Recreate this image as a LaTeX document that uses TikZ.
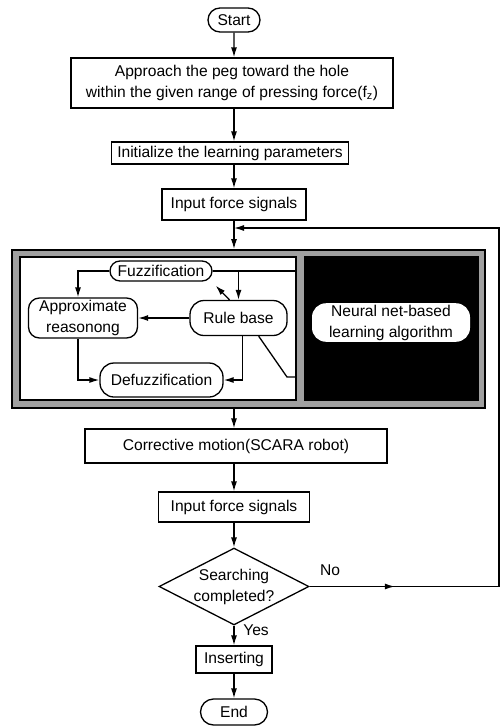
\documentclass[tikz,border=0pt]{standalone}
\usepackage{fontspec}
\setmainfont{Liberation Sans}
\usetikzlibrary{shapes.geometric, shapes.misc, arrows.meta, decorations.markings, positioning, calc}
\definecolor{bandgray}{RGB}{160,160,160}
\newcommand{\flowfont}{\fontsize{15.6}{21}\selectfont}
\tikzset{
  flowterm/.style={draw, line width=1.3pt, rounded rectangle, minimum height=24pt,
    inner sep=2pt, font=\flowfont},
  flowbox/.style={draw, line width=1.3pt, rectangle, inner sep=1.5pt, font=\flowfont, align=center},
  flowdec/.style={draw, line width=1.3pt, diamond, aspect=1.95, inner sep=0pt,
    font=\flowfont, align=center},
  fuzzbox/.style={draw, line width=1.3pt, rectangle, rounded corners=11pt, inner sep=1.5pt,
    font=\flowfont, align=center, fill=white},
  flowline/.style={line width=1.3pt},
  flowarrow/.style={line width=1.3pt, -{Latex[length=10pt,width=6pt]}},
  flowlabel/.style={font=\flowfont}
}
\begin{document}
\begin{tikzpicture}[x=1pt, y=-1pt]
  \useasboundingbox (0,0) rectangle (500,726);
  % main column
  \node[flowterm, minimum width=56pt] (start) at (234,20) {Start};
  \node[flowbox, minimum width=322pt, minimum height=50pt] (approach) at (232,83)
    {Approach the peg toward the hole\\within the given range of pressing force(f\textsubscript{z})};
  \node[flowbox, minimum width=237pt, minimum height=22pt] (init) at (230,153) {Initialize the learning parameters};
  \node[flowbox, minimum width=144pt, minimum height=31pt] (input1) at (234,204.5) {Input force signals};
  % fuzzy / neural panel
  \node[draw, line width=1.8pt, fill=bandgray, minimum width=473pt, minimum height=158pt, inner sep=0pt]
    (panel) at (248.5,329) {};
  \node[draw, line width=1.2pt, fill=white, minimum width=276pt, minimum height=143pt, inner sep=0pt]
    (fuzzyarea) at (158,328.5) {};
  \node[draw, line width=1.2pt, fill=black, minimum width=173pt, minimum height=143pt, inner sep=0pt]
    (nnarea) at (391.5,328.5) {};
  \node[fuzzbox, rounded corners=10pt, minimum width=102pt, minimum height=20pt, inner sep=1pt] (fuzz) at (161,271) {Fuzzification};
  \node[fuzzbox, minimum width=109pt, minimum height=40pt] (approx) at (83,318) {Approximate\\reasonong};
  \node[fuzzbox, rounded corners=14pt, minimum width=97pt, minimum height=35pt] (rule) at (238.5,318) {Rule base};
  \node[fuzzbox, rounded corners=14pt, minimum width=123pt, minimum height=34pt] (defuzz) at (161.5,380) {Defuzzification};
  \node[fuzzbox, draw=none, rounded corners=14pt, minimum width=158pt, minimum height=35pt] (nnbox) at (391,322.5)
    {Neural net-based\\learning algorithm};
  \draw[flowarrow] (fuzz.west) -| ([xshift=-5pt]approx.north);
  \draw[flowline] (fuzz.east) -- (fuzz.east -| fuzzyarea.east);
  \draw[flowarrow] (fuzz.east -| rule.north) -- (rule.north);
  \draw[flowarrow] ([xshift=-9pt]rule.north) -- ([xshift=3pt,yshift=-4pt]fuzz.south east);
  \draw[flowarrow] (rule.west) -- (approx.east);
  \draw[flowarrow] ([xshift=4pt]rule.south) |- (defuzz.east);
  \draw[flowarrow] ([xshift=-5pt]approx.south) |- (defuzz.west);
  \coordinate (nnjoin) at (296,377);
  \draw[flowline] (rule.-42) -- (287,377) -- (nnjoin);
  % lower part
  \node[flowbox, minimum width=302pt, minimum height=34pt] (motion) at (236,446) {Corrective motion(SCARA robot)};
  \node[flowbox, minimum width=151pt, minimum height=30pt] (input2) at (234,507) {Input force signals};
  \node[flowdec, minimum width=146pt, minimum height=75pt] (decide) at (234,586.5) {Searching\\completed?};
  \node[flowbox, minimum width=76pt, minimum height=27pt] (insert) at (234,659.5) {Inserting};
  \node[flowterm, minimum width=71pt, minimum height=26pt] (finish) at (234,712) {End};
  \node[flowlabel] (nolbl) at (330,570) {No};
  \node[flowlabel] (yeslbl) at (256,630) {Yes};
  % arrows of the main column
  \draw[flowarrow] (start) -- (start |- approach.north);
  \draw[flowarrow] (start |- approach.south) -- (start |- init.north);
  \draw[flowarrow] (start |- init.south) -- (input1.north);
  \draw[flowarrow] (input1.south) -- (input1.south |- panel.north);
  \draw[flowarrow] (input1.south |- panel.south) -- (input1.south |- motion.north);
  \draw[flowarrow] (input1.south |- motion.south) -- (input2.north);
  \draw[flowarrow] (input2.south) -- (decide.north);
  \draw[flowarrow] (decide.south) -- (insert.north);
  \draw[flowarrow] (insert.south) -- (finish.north);
  % feedback loop
  \coordinate (join) at (234,228);
  \coordinate (loopbot) at (499,586.5);
  \draw[flowline, postaction={decorate}, decoration={markings,
    mark=at position 0.45 with {\arrow{Latex[length=10pt,width=6pt]}}}] (decide.east) -- (loopbot);
  \draw[flowarrow] (loopbot) |- (join);
\end{tikzpicture}
\end{document}
